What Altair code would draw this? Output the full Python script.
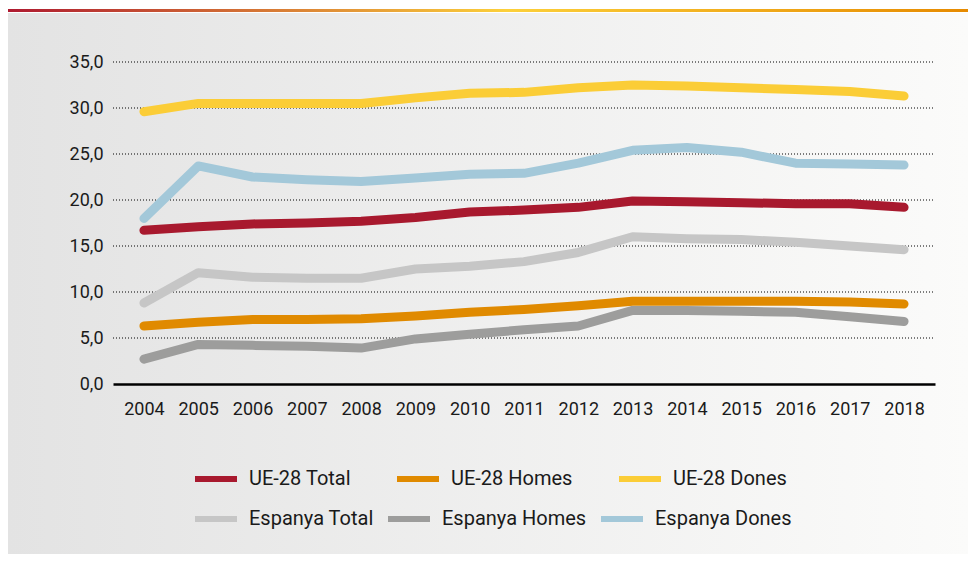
import altair as alt
import pandas as pd

years = [str(y) for y in range(2004, 2019)]

ue_total = [16.7, 17.1, 17.4, 17.5, 17.7, 18.1, 18.7, 18.9, 19.2, 19.9, 19.8, 19.7, 19.6, 19.6, 19.2]
ue_homes = [6.3, 6.7, 7.0, 7.0, 7.1, 7.4, 7.8, 8.1, 8.5, 9.0, 9.0, 9.0, 9.0, 8.9, 8.7]
ue_dones = [29.6, 30.5, 30.5, 30.5, 30.5, 31.1, 31.6, 31.7, 32.2, 32.5, 32.4, 32.2, 32.0, 31.8, 31.3]
es_total = [8.8, 12.1, 11.6, 11.5, 11.5, 12.5, 12.8, 13.3, 14.3, 16.0, 15.8, 15.7, 15.4, 15.0, 14.6]
es_homes = [2.7, 4.3, 4.2, 4.1, 3.9, 4.9, 5.4, 5.9, 6.3, 8.0, 8.0, 7.9, 7.8, 7.3, 6.8]
es_dones = [18.0, 23.7, 22.5, 22.2, 22.0, 22.4, 22.8, 22.9, 24.0, 25.4, 25.7, 25.2, 24.0, 23.9, 23.8]

ue_names = ["UE-28 Total", "UE-28 Homes", "UE-28 Dones"]
es_names = ["Espanya Total", "Espanya Homes", "Espanya Dones"]
ue_colors = ["#a8192e", "#e08a00", "#fbcd37"]
es_colors = ["#c6c6c6", "#9d9d9c", "#a3c8d9"]
y_ticks = [0, 5, 10, 15, 20, 25, 30, 35]


def long_df(names, series):
    rows = []
    for name, vals in zip(names, series):
        for yr, v in zip(years, vals):
            rows.append({"year": yr, "value": v, "series": name})
    return pd.DataFrame(rows)


df_ue = long_df(ue_names, [ue_total, ue_homes, ue_dones])
df_es = long_df(es_names, [es_total, es_homes, es_dones])
df_grid = pd.DataFrame({"value": y_ticks[1:]})
one = pd.DataFrame({"k": [0]})

font = "Roboto"
txt = "#1a1a1a"

x_enc = alt.X(
    "year:O",
    scale=alt.Scale(type="point", padding=0.57),
    axis=alt.Axis(
        title=None, labelAngle=0, ticks=False, tickSize=0, grid=False,
        domain=True, domainColor="black", domainWidth=2.5, zindex=1,
        labelFontSize=18, labelPadding=16, labelColor=txt, labelFont=font,
    ),
)
y_scale = alt.Scale(domain=[0, 35], nice=False)
y_enc = alt.Y(
    "value:Q",
    scale=y_scale,
    axis=alt.Axis(
        title=None, values=y_ticks,
        labelExpr="replace(format(datum.value, '.1f'), '.', ',')",
        grid=False, domain=False, ticks=False, tickSize=0, labelPadding=10,
        labelFontSize=18, labelColor=txt, labelFont=font, zindex=1,
    ),
)

bg = alt.Chart(one).mark_rect(
    color=alt.Gradient(
        gradient="linear", x1=0, x2=1, y1=0, y2=0,
        stops=[alt.GradientStop(offset=0, color="#e3e3e3"),
               alt.GradientStop(offset=1, color="#fbfbfa")],
    )
).encode(x=alt.value(-105), x2=alt.value(855), y=alt.value(-49), y2=alt.value(500))

topbar = alt.Chart(one).mark_rect(
    color=alt.Gradient(
        gradient="linear", x1=0, x2=1, y1=0, y2=0,
        stops=[alt.GradientStop(offset=0, color="#ae1a30"),
               alt.GradientStop(offset=0.52, color="#fcd03a"),
               alt.GradientStop(offset=1, color="#e68a00")],
    )
).encode(x=alt.value(-105), x2=alt.value(855), y=alt.value(-53), y2=alt.value(-50))

grid = alt.Chart(df_grid).mark_rule(color="black", strokeWidth=1, strokeDash=[1, 2]).encode(
    y=y_enc,
    x=alt.value(0), x2=alt.value(822),
)


def legend(lx, ly, colpad):
    return alt.Legend(
        title=None, orient="none", legendX=lx, legendY=ly, direction="horizontal",
        symbolType="stroke", symbolSize=1764, symbolStrokeWidth=6,
        labelFontSize=20, labelFont=font, labelColor=txt, labelOffset=9,
        columnPadding=colpad, padding=0, labelLimit=300,
    )


ue_lines = alt.Chart(df_ue).mark_line(strokeWidth=9, strokeCap="round", strokeJoin="round").encode(
    x=x_enc, y=y_enc,
    color=alt.Color("series:N", sort=ue_names,
                    scale=alt.Scale(domain=ue_names, range=ue_colors),
                    legend=legend(79, 393, 34)),
)
es_lines = alt.Chart(df_es).mark_line(strokeWidth=9, strokeCap="round", strokeJoin="round").encode(
    x=x_enc, y=y_enc,
    color=alt.Color("series:N", sort=es_names,
                    scale=alt.Scale(domain=es_names, range=es_colors),
                    legend=legend(79, 433, 2)),
)

chart = alt.layer(bg, topbar, grid, es_lines, ue_lines).resolve_scale(color="independent").properties(
    width=822, height=322,
    autosize=alt.AutoSizeParams(type="none"),
    padding={"left": 105, "top": 54, "right": 33, "bottom": 170},
    background="white",
).configure_view(stroke=None).configure(font=font)

chart.save("out.html", embed_options={"renderer": "svg", "actions": False})
